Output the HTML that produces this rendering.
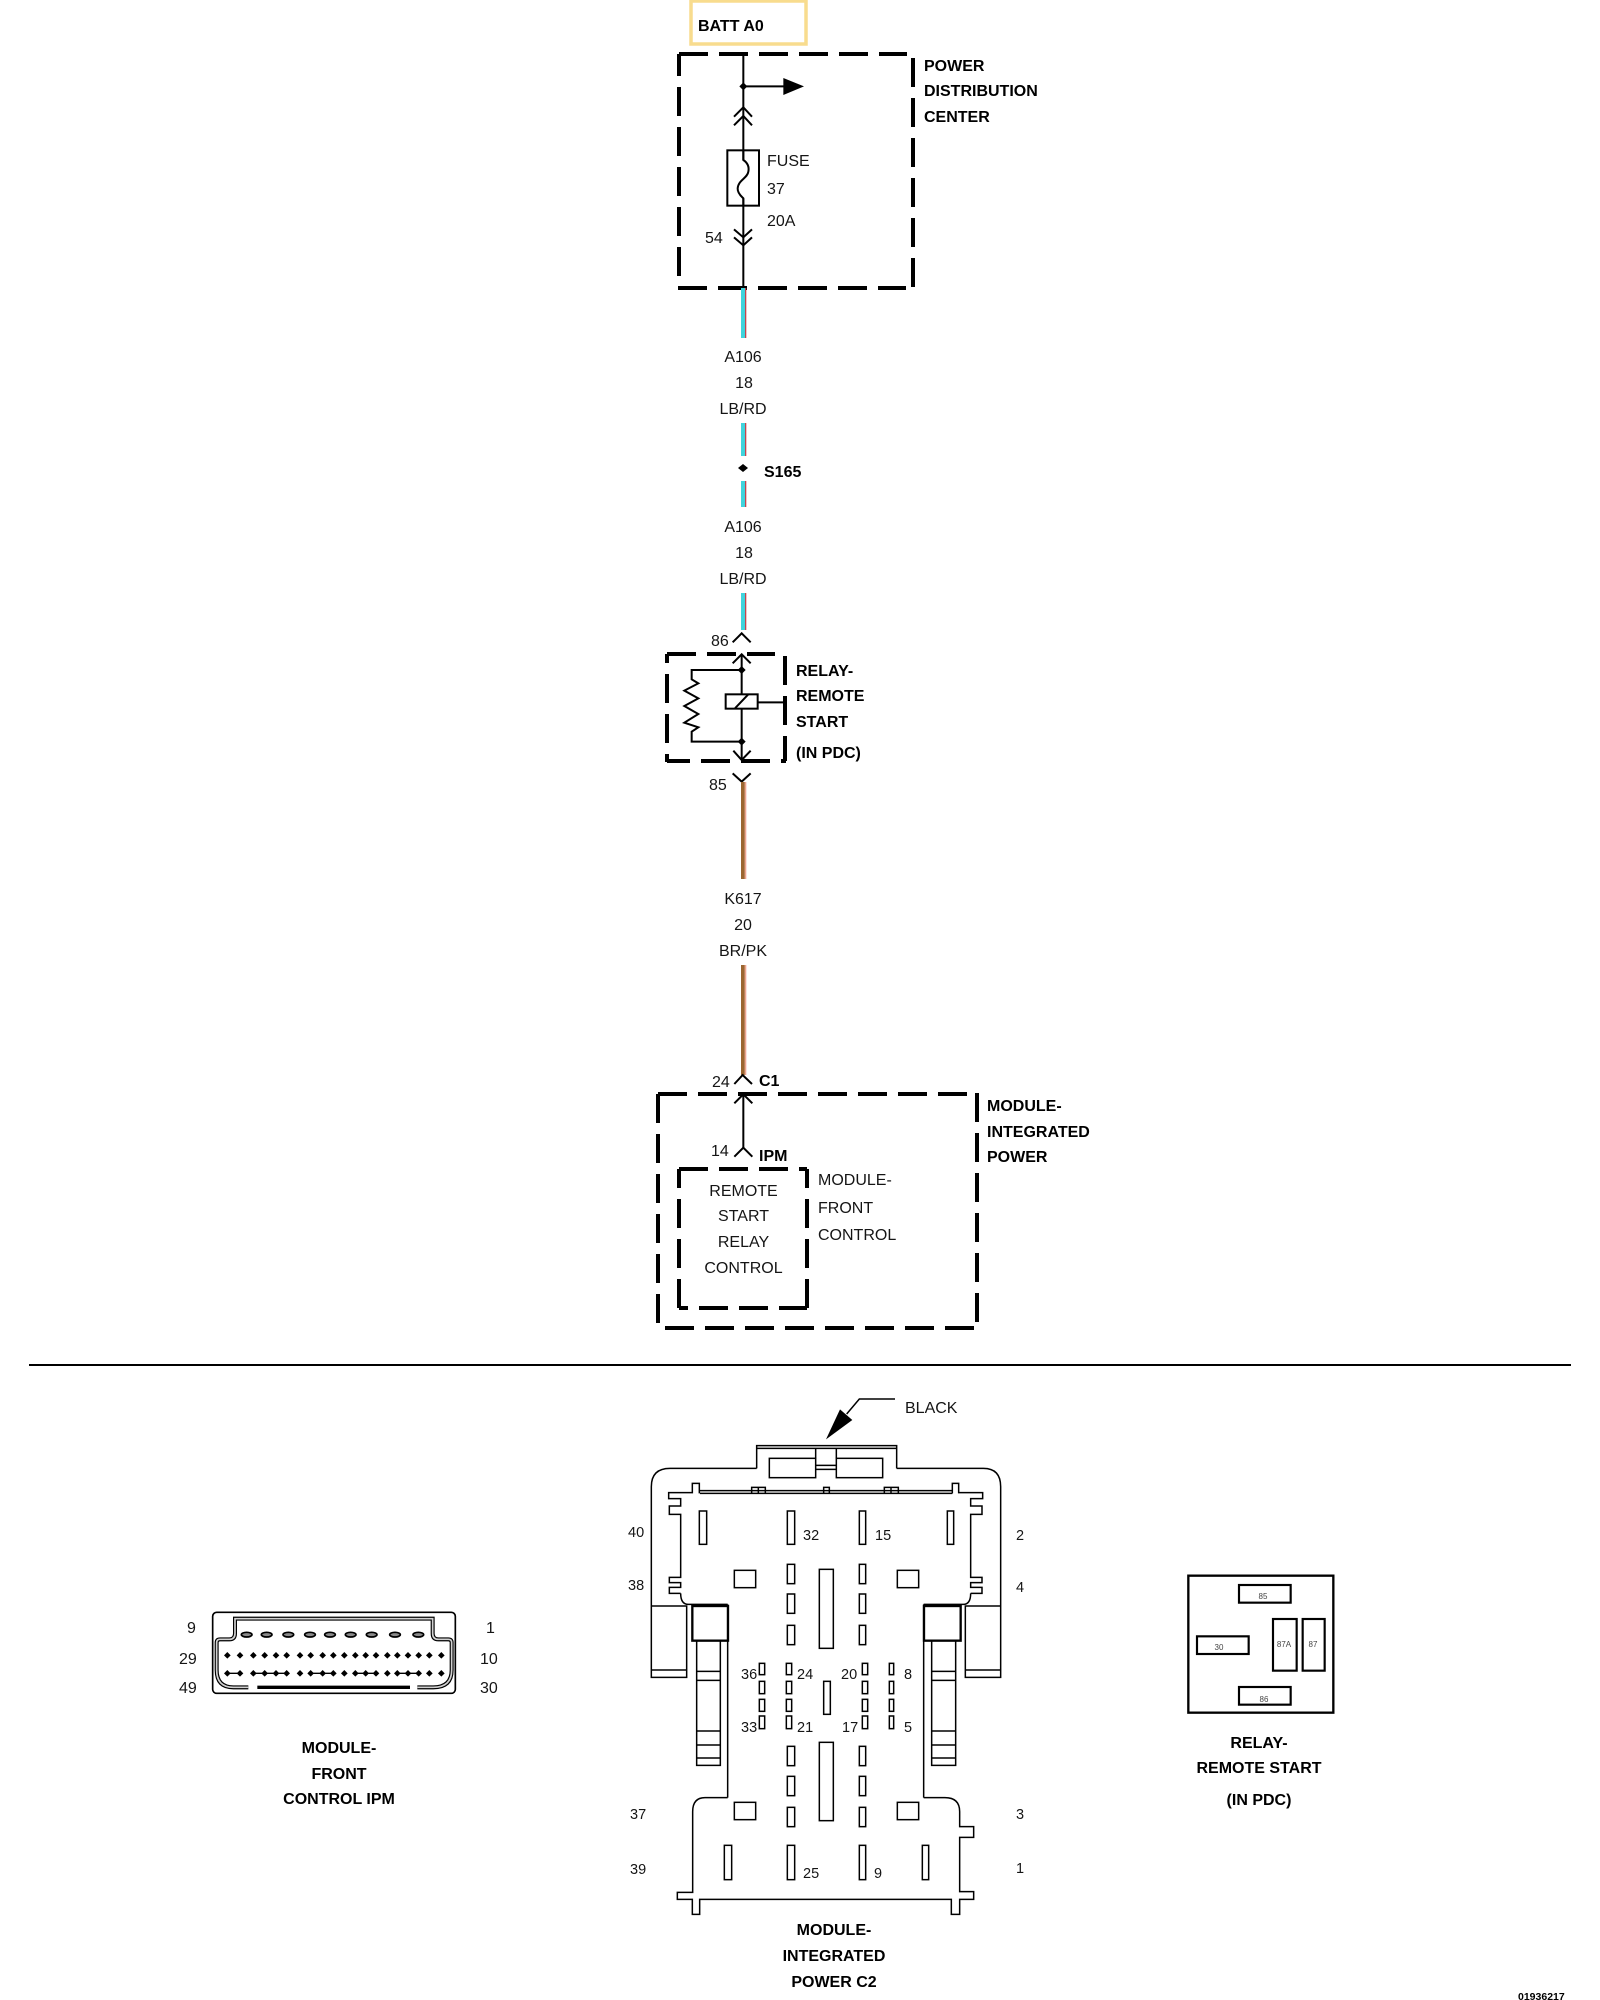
<!DOCTYPE html>
<html>
<head>
<meta charset="utf-8">
<style>
html,body{margin:0;padding:0;background:#fff;width:1600px;height:2000px;overflow:hidden}
svg{display:block}
text{font-family:"Liberation Sans",sans-serif;font-size:16px;fill:#151515}
.b{font-weight:bold;fill:#000}
.m{text-anchor:middle}
.n{font-size:14.5px}
.d{stroke:#000;stroke-width:4;stroke-dasharray:29 11;fill:none}
.l{stroke:#000;stroke-width:2;fill:none}
.z{fill:none;stroke:#000;stroke-width:4.5}
.y{fill:none;stroke:#000;stroke-width:6}
.r{font-size:8px;fill:#444;text-anchor:middle}
</style>
</head>
<body>
<svg width="1600" height="2000" viewBox="0 0 1600 2000" xmlns="http://www.w3.org/2000/svg">
<rect width="1600" height="2000" fill="#fff"/>

<!-- BATT -->
<rect x="691" y="1" width="115" height="43" fill="none" stroke="#f8dc8e" stroke-width="3.5"/>
<text x="698" y="31" class="b">BATT A0</text>

<!-- PDC box -->
<line class="d" x1="679" y1="54" x2="907" y2="54"/>
<line class="d" x1="913" y1="58" x2="913" y2="287"/>
<line class="d" x1="678" y1="288" x2="906" y2="288"/>
<line class="d" x1="679" y1="54" x2="679" y2="276" stroke-dashoffset="7"/>
<text x="924" y="71" class="b">POWER</text>
<text x="924" y="96" class="b">DISTRIBUTION</text>
<text x="924" y="122" class="b">CENTER</text>

<g transform="translate(640,0) scale(.33333)">
  <line class="y" x1="310" y1="162" x2="310" y2="480"/>
  <line class="y" x1="310" y1="595" x2="310" y2="865"/>
  <line class="y" x1="310" y1="259" x2="435" y2="259"/>
  <polygon points="298,259 310,247 322,259 310,271" fill="#000"/>
  <polygon points="430,234 492,259 430,285" fill="#000"/>
  <polyline class="y" points="282,350 310,322 336,350"/>
  <polyline class="y" points="282,376 310,348 336,376"/>
  <polyline class="y" points="282,688 310,712 336,688"/>
  <polyline class="y" points="282,712 310,736 336,712"/>
  <rect class="y" x="262" y="451" width="95" height="166" fill="#fff"/>
  <path class="y" d="M310,451 V480 C322,488 328,500 325,515 C322,535 295,540 293,565 C292,580 305,590 310,595 V617"/>
</g>
<text x="767" y="166">FUSE</text>
<text x="767" y="194">37</text>
<text x="767" y="226">20A</text>
<text x="705" y="243">54</text>

<!-- A106 wire -->
<g>
  <rect x="741" y="288" width="4" height="50" fill="#3fd3dc"/><rect x="745" y="288" width="1.3" height="50" fill="#c4444c"/>
  <rect x="741" y="423" width="4" height="33" fill="#3fd3dc"/><rect x="745" y="423" width="1.3" height="33" fill="#c4444c"/>
  <rect x="741" y="481" width="4" height="26" fill="#3fd3dc"/><rect x="745" y="481" width="1.3" height="26" fill="#c4444c"/>
  <rect x="741" y="593" width="4" height="37" fill="#3fd3dc"/><rect x="745" y="593" width="1.3" height="37" fill="#c4444c"/>
</g>
<text x="743" y="362" class="m">A106</text>
<text x="744" y="388" class="m">18</text>
<text x="743" y="414" class="m">LB/RD</text>
<polygon points="738,468 743,464 748,468 743,472" fill="#000"/>
<text x="764" y="477" class="b">S165</text>
<text x="743" y="532" class="m">A106</text>
<text x="744" y="558" class="m">18</text>
<text x="743" y="584" class="m">LB/RD</text>

<!-- Relay -->
<line class="d" x1="667" y1="654" x2="775" y2="654"/>
<line class="d" x1="785" y1="656" x2="785" y2="761"/>
<line class="d" x1="667" y1="654" x2="667" y2="762" stroke-dashoffset="20"/>
<line class="d" x1="667" y1="761" x2="786" y2="761" stroke-dashoffset="6"/>
<g transform="translate(640,620) scale(.33333)">
  <polyline class="y" points="278,67 305,40 332,67"/>
  <polyline class="y" points="278,130 305,103 332,130"/>
  <line class="y" x1="305" y1="103" x2="305" y2="222"/>
  <line class="y" x1="305" y1="265" x2="305" y2="420"/>
  <polyline class="y" points="305,150 155,150 155,178 175,190 133,212 175,235 133,258 175,282 133,308 175,322 155,335 155,365 305,365"/>
  <polygon points="293,150 305,138 317,150 305,162" fill="#000"/>
  <polygon points="293,365 305,353 317,365 305,377" fill="#000"/>
  <rect class="y" x="257" y="223" width="96" height="43"/>
  <line class="y" x1="285" y1="265" x2="325" y2="223"/>
  <line class="y" x1="353" y1="247" x2="432" y2="247"/>
  <polyline class="y" points="280,392 305,420 332,392"/>
  <polyline class="y" points="278,460 305,485 332,460"/>
</g>
<text x="711" y="646">86</text>
<text x="709" y="790">85</text>
<text x="796" y="676" class="b">RELAY-</text>
<text x="796" y="701" class="b">REMOTE</text>
<text x="796" y="727" class="b">START</text>
<text x="796" y="758" class="b">(IN PDC)</text>

<!-- K617 wire -->
<rect x="741" y="782" width="3.8" height="97" fill="#9c6630"/><rect x="744.8" y="782" width="1.5" height="97" fill="#eea48f"/>
<rect x="741" y="965" width="3.8" height="110" fill="#9c6630"/><rect x="744.8" y="965" width="1.5" height="110" fill="#eea48f"/>
<text x="743" y="904" class="m">K617</text>
<text x="743" y="930" class="m">20</text>
<text x="743" y="956" class="m">BR/PK</text>

<!-- IPM -->
<line class="d" x1="658" y1="1094" x2="967" y2="1094"/>
<line class="d" x1="658" y1="1094" x2="658" y2="1323"/>
<line class="d" x1="977" y1="1093" x2="977" y2="1322"/>
<line class="d" x1="665" y1="1328" x2="974" y2="1328"/>
<line class="d" x1="679" y1="1169" x2="807" y2="1169"/>
<line class="d" x1="679" y1="1169" x2="679" y2="1308" stroke-dashoffset="10"/>
<line class="d" x1="807" y1="1169" x2="807" y2="1308" stroke-dashoffset="10"/>
<line class="d" x1="679" y1="1308" x2="807" y2="1308" stroke-dashoffset="20"/>
<g transform="translate(640,1060) scale(.33333)">
  <polyline class="y" points="283,72 308,45 336,72"/>
  <polyline class="y" points="283,130 310,103 337,130"/>
  <line class="y" x1="310" y1="103" x2="310" y2="263"/>
  <polyline class="y" points="283,290 310,263 337,290"/>
</g>
<text x="712" y="1087">24</text>
<text x="759" y="1086" class="b">C1</text>
<text x="711" y="1156">14</text>
<text x="759" y="1161" class="b">IPM</text>
<text x="743.5" y="1196" class="m">REMOTE</text>
<text x="743.5" y="1221" class="m">START</text>
<text x="743.5" y="1247" class="m">RELAY</text>
<text x="743.5" y="1273" class="m">CONTROL</text>
<text x="818" y="1185">MODULE-</text>
<text x="818" y="1213">FRONT</text>
<text x="818" y="1240">CONTROL</text>
<text x="987" y="1111" class="b">MODULE-</text>
<text x="987" y="1137" class="b">INTEGRATED</text>
<text x="987" y="1162" class="b">POWER</text>

<!-- Divider -->
<line x1="29" y1="1365" x2="1571" y2="1365" stroke="#000" stroke-width="2"/>

<!-- C2 connector upper -->
<g transform="translate(620,1390) scale(.33333)">
  <polyline class="z" points="825,27 718,27 680,72"/>
  <polygon points="618,148 660,58 697,90" fill="#000"/>
  <path class="z" d="M410,235 V167 H830 V235 M410,175 H830"/>
  <rect class="z" x="448" y="205" width="139" height="58"/>
  <rect class="z" x="649" y="205" width="139" height="58"/>
  <path class="z" d="M587,175 V205 M649,175 V205 M587,226 H649 M587,238 H649"/>
  <path class="z" d="M410,235 H150 Q94,235 94,290 V862 H200 V648 H94 M94,840 H200"/>
  <path class="z" d="M830,235 H1090 Q1142,235 1142,290 V862 H1036 V648 H1142 M1036,840 H1142"/>
  <path class="z" d="M240,302 H997 M240,310 H997"/>
  <path class="z" d="M395,310 V292 H436 V310 M415,292 V310 M611,310 V292 H628 V310 M793,310 V292 H835 V310 M813,292 V310"/>
  <polyline class="z" points="238,310 238,280 217,280 217,308 146,308 146,326 182,326 182,348 148,348 148,373 182,373 182,562 148,562 148,578 182,578 182,592 148,592 148,610 182,610"/>
  <path class="z" d="M182,610 Q182,643 205,643 H323"/>
  <polyline class="z" points="997,310 997,280 1016,280 1016,308 1088,308 1088,326 1052,326 1052,348 1086,348 1086,373 1052,373 1052,562 1086,562 1086,578 1052,578 1052,592 1086,592 1086,610 1052,610"/>
  <path class="z" d="M1052,610 Q1052,643 1030,643 H911"/>
  <rect x="217" y="648" width="107" height="104" fill="none" stroke="#000" stroke-width="7"/>
  <rect x="912" y="648" width="110" height="104" fill="none" stroke="#000" stroke-width="7"/>
  <path class="z" d="M323,643 V1223 M911,643 V1223"/>
  <path class="z" d="M230,752 V1126 H301 V752 M230,844 H301 M230,871 H301 M230,1023 H301 M230,1065 H301 M230,1104 H301"/>
  <path class="z" d="M935,752 V1126 H1007 V752 M935,844 H1007 M935,871 H1007 M935,1023 H1007 M935,1065 H1007 M935,1104 H1007"/>
  <g class="z">
    <rect x="238" y="363" width="22" height="100"/><rect x="502" y="363" width="22" height="100"/><rect x="718" y="363" width="19" height="100"/><rect x="982" y="363" width="19" height="100"/>
    <rect x="502" y="523" width="22" height="58"/><rect x="718" y="523" width="19" height="58"/>
    <rect x="502" y="612" width="22" height="58"/><rect x="718" y="612" width="19" height="58"/>
    <rect x="502" y="706" width="22" height="58"/><rect x="718" y="706" width="19" height="58"/>
    <rect x="598" y="538" width="42" height="237"/>
    <rect x="343" y="541" width="64" height="52"/><rect x="832" y="541" width="64" height="52"/>
  </g>
</g>
<!-- C2 connector lower -->
<g transform="translate(620,1660) scale(.33333)">
  <path class="z" d="M323,413 H255 Q218,413 218,455 V697 H172 V718 H217 V763 H239 V718 H994 V763 H1019 V718 H1061 V695 H1019 V532 H1061 V500 H1019 V455 Q1019,413 975,413 H911"/>
  <g class="z">
    <rect x="418" y="10" width="16" height="34"/><rect x="499" y="10" width="16" height="34"/><rect x="727" y="10" width="16" height="34"/><rect x="808" y="10" width="13" height="34"/>
    <rect x="418" y="64" width="16" height="37"/><rect x="499" y="64" width="16" height="37"/><rect x="727" y="64" width="16" height="37"/><rect x="808" y="64" width="13" height="37"/>
    <rect x="418" y="118" width="16" height="36"/><rect x="499" y="118" width="16" height="36"/><rect x="727" y="118" width="16" height="36"/><rect x="808" y="118" width="13" height="36"/>
    <rect x="418" y="168" width="16" height="38"/><rect x="499" y="168" width="16" height="38"/><rect x="727" y="168" width="16" height="38"/><rect x="808" y="168" width="13" height="38"/>
    <rect x="611" y="64" width="20" height="99"/>
    <rect x="598" y="247" width="42" height="235"/>
    <rect x="502" y="259" width="22" height="58"/><rect x="718" y="259" width="19" height="58"/>
    <rect x="502" y="349" width="22" height="58"/><rect x="718" y="349" width="19" height="58"/>
    <rect x="502" y="442" width="22" height="58"/><rect x="718" y="442" width="19" height="58"/>
    <rect x="343" y="427" width="64" height="52"/><rect x="832" y="427" width="64" height="52"/>
    <rect x="313" y="556" width="22" height="103"/><rect x="502" y="556" width="22" height="103"/><rect x="718" y="556" width="19" height="103"/><rect x="907" y="556" width="19" height="103"/>
  </g>
</g>
<text x="905" y="1413">BLACK</text>
<text x="628" y="1537" class="n">40</text>
<text x="803" y="1540" class="n">32</text>
<text x="875" y="1540" class="n">15</text>
<text x="1016" y="1540" class="n">2</text>
<text x="628" y="1590" class="n">38</text>
<text x="1016" y="1592" class="n">4</text>
<text x="741" y="1679" class="n">36</text>
<text x="797" y="1679" class="n">24</text>
<text x="841" y="1679" class="n">20</text>
<text x="904" y="1679" class="n">8</text>
<text x="741" y="1732" class="n">33</text>
<text x="797" y="1732" class="n">21</text>
<text x="842" y="1732" class="n">17</text>
<text x="904" y="1732" class="n">5</text>
<text x="630" y="1819" class="n">37</text>
<text x="1016" y="1819" class="n">3</text>
<text x="630" y="1874" class="n">39</text>
<text x="803" y="1878" class="n">25</text>
<text x="874" y="1878" class="n">9</text>
<text x="1016" y="1873" class="n">1</text>
<text x="834" y="1935" class="b m">MODULE-</text>
<text x="834" y="1961" class="b m">INTEGRATED</text>
<text x="834" y="1987" class="b m">POWER C2</text>

<!-- Front control connector -->
<g transform="translate(170,1590) scale(.33333)">
  <rect x="128" y="67" width="728" height="243" rx="12" fill="none" stroke="#000" stroke-width="5"/>
  <path d="M235,292 H190 Q140,292 140,240 V158 Q140,148 150,148 H178 Q195,148 195,130 V86 H788 V130 Q788,148 805,148 H835 Q845,148 845,158 V240 Q845,292 790,292 H742" fill="none" stroke="#000" stroke-width="12"/>
  <path d="M235,292 H190 Q140,292 140,240 V158 Q140,148 150,148 H178 Q195,148 195,130 V86 H788 V130 Q788,148 805,148 H835 Q845,148 845,158 V240 Q845,292 790,292 H742" fill="none" stroke="#d0d0d0" stroke-width="5"/>
  <line x1="262" y1="292" x2="720" y2="292" stroke="#000" stroke-width="10"/>
  <g fill="#8a8a8a" stroke="#000" stroke-width="5">
    <ellipse cx="230" cy="134" rx="16" ry="7"/><ellipse cx="290" cy="134" rx="16" ry="7"/><ellipse cx="355" cy="134" rx="16" ry="7"/><ellipse cx="420" cy="134" rx="16" ry="7"/><ellipse cx="480" cy="134" rx="16" ry="7"/><ellipse cx="542" cy="134" rx="16" ry="7"/><ellipse cx="605" cy="134" rx="16" ry="7"/><ellipse cx="675" cy="134" rx="16" ry="7"/><ellipse cx="745" cy="134" rx="16" ry="7"/>
  </g>
  <g fill="#000">
    <path d="M162,196l10,-10l10,10l-10,10z M200,196l10,-10l10,10l-10,10z M240,196l10,-10l10,10l-10,10z M274,196l10,-10l10,10l-10,10z M308,196l10,-10l10,10l-10,10z M340,196l10,-10l10,10l-10,10z M380,196l10,-10l10,10l-10,10z M412,196l10,-10l10,10l-10,10z M448,196l10,-10l10,10l-10,10z M480,196l10,-10l10,10l-10,10z M513,196l10,-10l10,10l-10,10z M546,196l10,-10l10,10l-10,10z M577,196l10,-10l10,10l-10,10z M608,196l10,-10l10,10l-10,10z M642,196l10,-10l10,10l-10,10z M672,196l10,-10l10,10l-10,10z M704,196l10,-10l10,10l-10,10z M736,196l10,-10l10,10l-10,10z M768,196l10,-10l10,10l-10,10z M804,196l10,-10l10,10l-10,10z"/>
    <path d="M162,250l10,-10l10,10l-10,10z M200,250l10,-10l10,10l-10,10z M240,250l10,-10l10,10l-10,10z M274,250l10,-10l10,10l-10,10z M308,250l10,-10l10,10l-10,10z M340,250l10,-10l10,10l-10,10z M380,250l10,-10l10,10l-10,10z M412,250l10,-10l10,10l-10,10z M448,250l10,-10l10,10l-10,10z M480,250l10,-10l10,10l-10,10z M513,250l10,-10l10,10l-10,10z M546,250l10,-10l10,10l-10,10z M577,250l10,-10l10,10l-10,10z M608,250l10,-10l10,10l-10,10z M642,250l10,-10l10,10l-10,10z M672,250l10,-10l10,10l-10,10z M704,250l10,-10l10,10l-10,10z M736,250l10,-10l10,10l-10,10z M768,250l10,-10l10,10l-10,10z M804,250l10,-10l10,10l-10,10z"/>
  </g>
  <path d="M172,250 H210 M250,250 H350 M422,250 H490 M556,250 H618 M682,250 H746" fill="none" stroke="#000" stroke-width="4"/>
</g>
<text x="187" y="1633">9</text>
<text x="179" y="1664">29</text>
<text x="179" y="1693">49</text>
<text x="486" y="1633">1</text>
<text x="480" y="1664">10</text>
<text x="480" y="1693">30</text>
<text x="339" y="1753" class="b m">MODULE-</text>
<text x="339" y="1779" class="b m">FRONT</text>
<text x="339" y="1804" class="b m">CONTROL IPM</text>

<!-- Relay connector -->
<g transform="translate(1170,1560) scale(.33333)">
  <rect x="55" y="47" width="435" height="411" fill="none" stroke="#000" stroke-width="7"/>
  <g fill="none" stroke="#000" stroke-width="6.5">
    <rect x="207" y="75" width="155" height="53"/>
    <rect x="81" y="229" width="155" height="53"/>
    <rect x="309" y="177" width="71" height="155"/>
    <rect x="398" y="177" width="66" height="155"/>
    <rect x="207" y="381" width="155" height="53"/>
  </g>
</g>
<text x="1263" y="1599" class="r">85</text>
<text x="1219" y="1650" class="r">30</text>
<text x="1284" y="1647" class="r">87A</text>
<text x="1313" y="1647" class="r">87</text>
<text x="1264" y="1702" class="r">86</text>
<text x="1259" y="1748" class="b m">RELAY-</text>
<text x="1259" y="1773" class="b m">REMOTE START</text>
<text x="1259" y="1805" class="b m">(IN PDC)</text>

<text x="1518" y="2000" class="b" style="font-size:10.5px">01936217</text>
</svg>
</body>
</html>
